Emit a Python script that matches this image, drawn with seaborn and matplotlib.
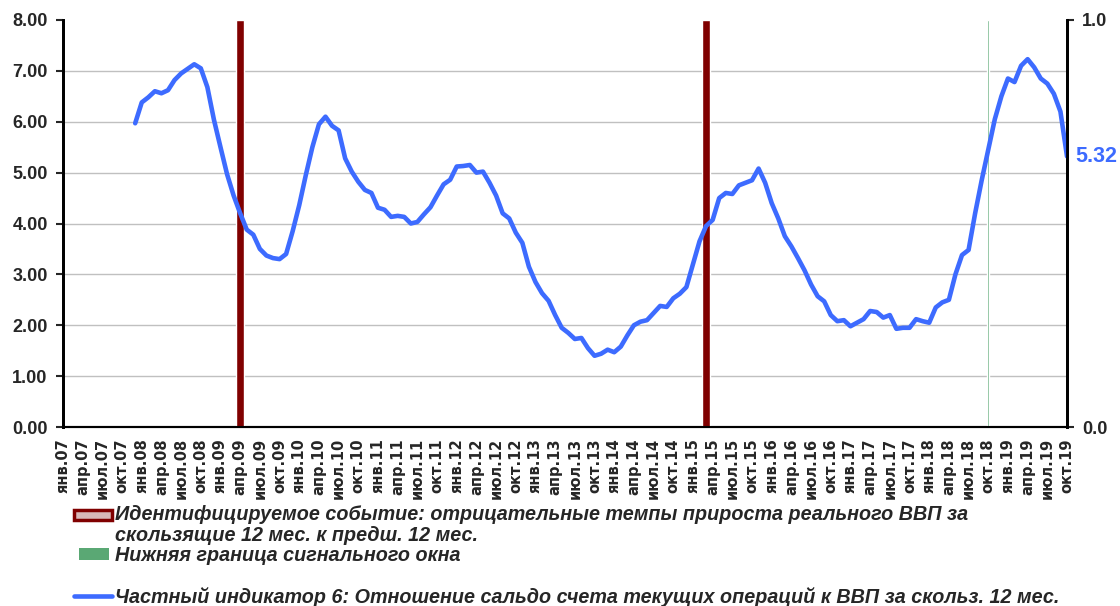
import numpy as np
import pandas as pd
import matplotlib
matplotlib.use("Agg")
import matplotlib.pyplot as plt
import matplotlib.patches as mpatches
from matplotlib.lines import Line2D
import seaborn as sns

# --- данные ---
months = ['янв', 'апр', 'июл', 'окт']
years = list(range(7, 20))
tick_labels = [f'{m}.{y:02d}' for y in years for m in months]   # каждые 3 мес., янв.07 ... окт.19

start_idx = 11   # дек.07
indicator = [
    5.97, 6.38, 6.48, 6.60, 6.56, 6.62, 6.82, 6.95, 7.04, 7.13,
    7.05, 6.68, 6.04, 5.50, 4.97, 4.55, 4.20, 3.88, 3.78, 3.50,
    3.37, 3.32, 3.30, 3.40, 3.85, 4.36, 4.95, 5.50, 5.95, 6.10,
    5.92, 5.83, 5.28, 5.02, 4.82, 4.66, 4.60, 4.31, 4.27, 4.13,
    4.15, 4.13, 4.00, 4.03, 4.18, 4.32, 4.55, 4.77, 4.86, 5.12,
    5.13, 5.15, 5.00, 5.02, 4.80, 4.55, 4.20, 4.10, 3.82, 3.62,
    3.15, 2.85, 2.63, 2.48, 2.20, 1.95, 1.85, 1.73, 1.75, 1.55,
    1.40, 1.44, 1.52, 1.47, 1.58, 1.80, 2.00, 2.07, 2.10, 2.24,
    2.38, 2.36, 2.53, 2.62, 2.75, 3.20, 3.65, 3.95, 4.07, 4.50,
    4.60, 4.58, 4.75, 4.80, 4.85, 5.08, 4.80, 4.40, 4.10, 3.75,
    3.55, 3.32, 3.08, 2.80, 2.57, 2.47, 2.20, 2.08, 2.10, 1.98,
    2.05, 2.12, 2.28, 2.26, 2.15, 2.20, 1.93, 1.95, 1.95, 2.12,
    2.08, 2.05, 2.35, 2.45, 2.50, 3.00, 3.38, 3.48, 4.20, 4.85,
    5.45, 6.05, 6.50, 6.85, 6.78, 7.10, 7.23, 7.07, 6.85, 6.75,
    6.55, 6.20, 5.32,
]
event_idx = [27, 98]      # апр.09, мар.15
event_val = [1, 1]
window_idx = [141]        # окт.18
window_val = [1]

df = pd.DataFrame({'idx': np.arange(start_idx, start_idx + len(indicator)),
                   'value': indicator})

sns.set_style('white')
plt.rcParams['font.family'] = ['Liberation Sans', 'DejaVu Sans']

blue = '#3d6bff'
red = '#800000'
green = '#5aa874'

fig = plt.figure(figsize=(11.2, 6.06), dpi=100)
ax2 = fig.add_axes([63 / 1120, 1 - 427 / 606, (1067 - 63) / 1120, (427 - 20) / 606])
ax = ax2.twinx()
ax.yaxis.tick_left()
ax2.yaxis.tick_right()
ax.set_zorder(ax2.get_zorder() + 1)
ax.patch.set_visible(False)

# столбцы на вспомогательной оси (0-1)
ax2.bar(event_idx, event_val, width=1.2, color=red, zorder=3)
ax2.bar(window_idx, window_val, width=0.3, color=green, zorder=3)
ax2.set_ylim(0, 1)
ax2.set_yticks([0, 1])
ax2.set_yticklabels(['0.0', '1.0'], fontsize=13, fontweight='bold')
ax2.set_yticks(np.arange(0, 1.0001, 0.125), minor=True)
ax2.yaxis.grid(True, which='minor', color='#c0c0c0', linewidth=1)
ax2.set_axisbelow(True)
ax2.tick_params(axis='y', which='major', direction='out', length=5, width=1.5, pad=6)
ax2.tick_params(axis='y', which='minor', length=0)

# основная линия
sns.lineplot(data=df, x='idx', y='value', ax=ax, color=blue, linewidth=3.3,
             solid_capstyle='round', solid_joinstyle='round')
ax.set_ylim(0, 8)
ax.set_yticks(np.arange(0, 9, 1))
ax.set_yticklabels([f'{v:.2f}' for v in np.arange(0, 9, 1)], fontsize=13, fontweight='bold')
ax.tick_params(axis='y', direction='out', length=5, width=1.5, pad=6)
ax.tick_params(axis='x', which='both', bottom=False, labelbottom=False)
ax.set_ylabel('')
ax.set_xlabel('')

ax2.set_xlim(0, 153)
ax2.set_xticks(np.arange(0, 154, 3))
ax2.set_xticklabels(tick_labels, rotation=90, fontsize=10.5, fontweight='bold',
                    family=['DejaVu Sans'])
ax2.tick_params(axis='x', direction='inout', length=8, width=1.3, pad=4)

for a in (ax, ax2):
    a.spines['top'].set_visible(False)
    a.spines['left'].set_linewidth(2)
    a.spines['right'].set_linewidth(2)
    a.spines['bottom'].set_linewidth(1.5)
    for s in a.spines.values():
        s.set_color('black')

# подпись последнего значения
last_x = df['idx'].iloc[-1]
last_v = df['value'].iloc[-1]
ax.annotate(f'{last_v:.2f}', xy=(last_x, last_v), xytext=(6, 0), textcoords='offset points',
            ha='left', va='center', color=blue, fontsize=15.5, fontweight='bold',
            annotation_clip=False)

# легенда
W, H = 1120, 606
def fx(px):
    return px / W
def fy(py):
    return 1 - py / H

fig.patches.append(mpatches.Rectangle((fx(74), fy(520)), 38 / W, 10 / H, transform=fig.transFigure,
                                      facecolor='#d8b8b8', edgecolor=red, linewidth=2.5))
fig.patches.append(mpatches.Rectangle((fx(79), fy(560)), 30 / W, 12 / H, transform=fig.transFigure,
                                      facecolor='#5aa874', edgecolor='none'))
fig.lines.append(Line2D([fx(74), fx(112)], [fy(596), fy(596)], transform=fig.transFigure,
                        color=blue, linewidth=3.3, solid_capstyle='round'))

leg_kw = dict(fontsize=14.2, fontweight='bold', fontstyle='italic', ha='left', va='baseline')
fig.text(fx(115), fy(520), 'Идентифицируемое событие: отрицательные темпы прироста реального ВВП за', **leg_kw)
fig.text(fx(115), fy(541), 'скользящие 12 мес. к предш. 12 мес.', **leg_kw)
fig.text(fx(115), fy(561), 'Нижняя граница сигнального окна', **leg_kw)
fig.text(fx(115), fy(603), 'Частный индикатор 6: Отношение сальдо счета текущих операций к ВВП за скольз. 12 мес.', **leg_kw)

fig.savefig('out.png', dpi=100)
